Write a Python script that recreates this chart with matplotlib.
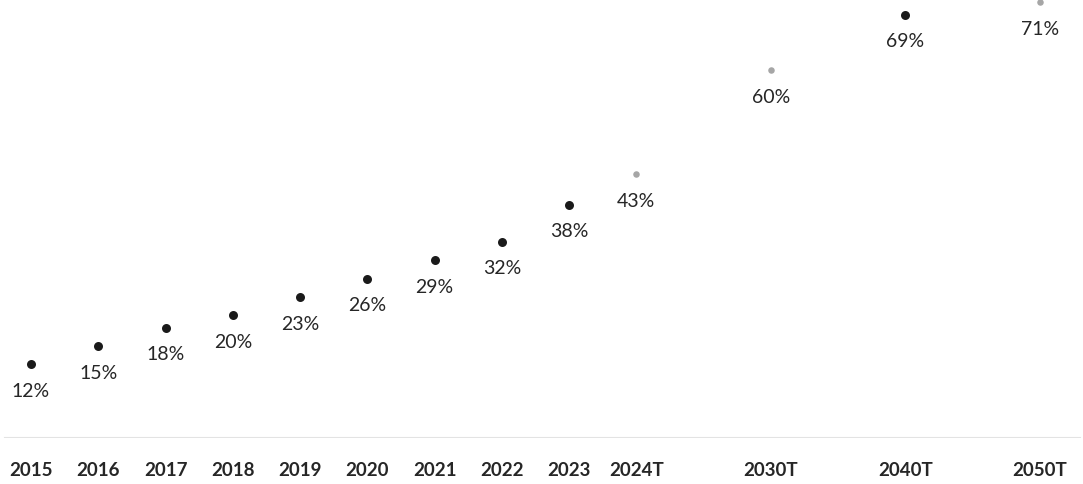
import numpy as np
from matplotlib import pyplot as plt

plt.rcParams['font.family'] = ['Lato', 'DejaVu Sans']

years = ['2015', '2016', '2017', '2018', '2019', '2020', '2021', '2022', '2023',
         '2024T', '2030T', '2040T', '2050T']
pos = [0, 1, 2, 3, 4, 5, 6, 7, 8, 9, 11, 13, 15]
share = [12, 15, 18, 20, 23, 26, 29, 32, 38, 43, 60, 69, 71]
target = [False] * 9 + [True, True, False, True]

fig = plt.figure(figsize=(10.83, 4.84), dpi=100)
ax = fig.add_axes([0, 0.095, 1, 0.905])

for x, y, t in zip(pos, share, target):
    if t:
        ax.scatter(x, y, s=22, color='#a6a6a6', zorder=3, linewidths=0)
    else:
        ax.scatter(x, y, s=42, color='#1a1a1a', zorder=3, linewidths=0)
    ax.annotate(f'{y}%', (x, y), xytext=(0, -19.5), textcoords='offset points',
                ha='center', va='center', fontsize=14, color='#262626')

ax.plot([-0.39, 15.6], [0, 0], color='#e3e3e3', lw=1.5, zorder=1)

ax.set_xlim(-0.461, 15.64)
ax.set_ylim(0, 71.4)
ax.set_xticks(pos)
ax.set_xticklabels(years, fontsize=13.5, fontweight='bold', color='#262626')
ax.tick_params(axis='x', length=0, pad=17)
ax.set_yticks([])
for s in ax.spines.values():
    s.set_visible(False)

plt.savefig('out.png', dpi=100)
